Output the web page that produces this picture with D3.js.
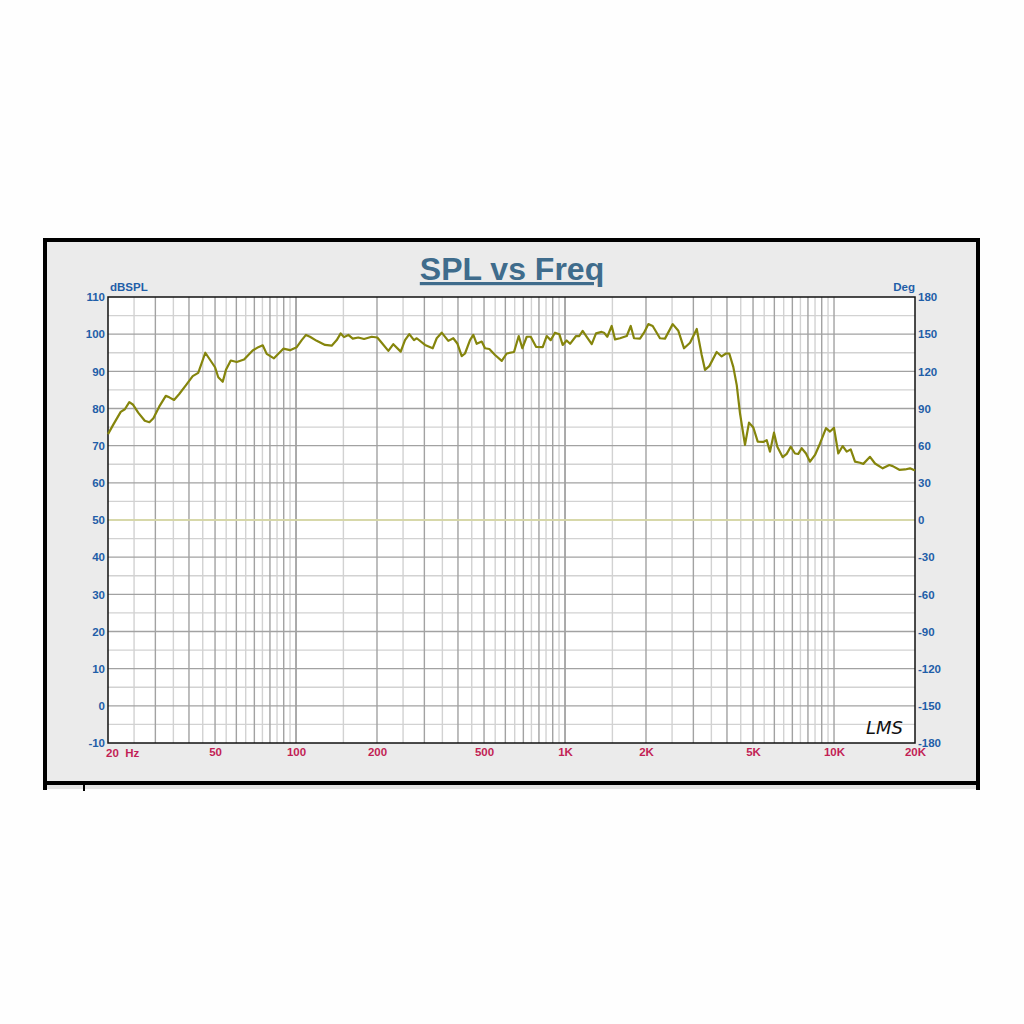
<!DOCTYPE html>
<html><head><meta charset="utf-8">
<script src="https://cdn.jsdelivr.net/npm/d3@7"></script>
<style>html,body{margin:0;padding:0;background:#fefefe;}</style>
</head><body>
<script>
// ---- data ----
const freqs = [20,20.9,22.3,23.1,24.0,24.8,25.9,27.4,28.5,29.5,31.0,32.8,33.8,35.2,36.8,39.0,41.3,43.3,46.0,50.0,51.4,53.4,54.9,57.2,60.2,64.1,69.0,72.4,75.2,77.8,82.8,89.7,95.0,100.6,105,108.9,112.7,119.4,128.2,135.7,141.7,146.6,150.8,156.5,162.5,170.4,179,191.1,200.5,208.2,220.4,230,245,254.2,263.7,274.5,281,301.7,322.2,333.4,348,368.2,384.2,397.8,413,424.8,443.4,456.1,469.6,490.1,504.2,523.2,549.4,581.8,607.3,646.2,672.8,693.8,720.5,745.7,780.2,826.1,854.9,884.6,917.7,952.2,980.2,1014,1044,1099,1130,1163,1204,1257,1304,1369,1396,1436,1491,1534,1601,1696,1755,1805,1900,1966,2040,2118,2254,2353,2514,2638,2770,2916,3088,3222,3314,3438,3662,3822,3966,4080,4222,4349,4472,4667,4830,5012,5204,5459,5620,5781,5982,6155,6446,6670,6902,7159,7366,7582,7868,8142,8499,8871,9338,9661,9997,10373,10771,11148,11535,11967,12490,12849,13608,14204,15172,16056,16529,17489,18362,19163,20000];
const spl = [73.1,75.6,79.1,79.8,81.7,81.0,78.9,76.7,76.3,77.4,80.5,83.4,83.0,82.3,83.9,86.3,88.7,89.6,95.0,91.1,88.4,87.2,90.4,92.9,92.5,93.2,95.6,96.5,97.0,94.7,93.5,96.1,95.7,96.5,98.4,99.8,99.3,98.2,97.1,96.9,98.4,100.2,99.2,99.8,98.8,99.1,98.7,99.3,99.1,97.7,95.5,97.3,95.3,98.4,100.0,98.4,98.9,97.1,96.2,98.9,100.4,98.2,98.9,97.5,94.1,94.8,98.4,99.8,97.4,98.0,96.2,96.0,94.4,92.8,94.8,95.2,99.5,96.2,99.3,99.3,96.6,96.5,99.5,98.4,100.4,100.0,97.1,98.3,97.4,99.5,99.5,100.9,99.3,97.3,100.2,100.6,100.4,99.3,102.2,98.6,98.9,99.5,102.2,98.9,98.8,100.4,102.7,102.2,98.9,98.8,102.7,100.9,96.2,97.7,101.4,94.4,90.4,91.4,95.2,94.0,94.8,94.8,91.2,86.3,78.7,70.2,76.2,74.9,71.1,71.0,71.5,68.4,73.5,69.7,66.9,67.8,69.7,67.9,67.8,69.3,67.9,65.7,67.5,70.6,74.7,73.8,74.8,67.9,69.9,68.4,69.0,65.7,65.4,65.1,67.0,65.2,63.9,64.8,64.5,63.5,63.6,63.9,63.3];
const phaseFreqs = [20, 20000];
const phase = [0, 0];
const splTicks = [110,100,90,80,70,60,50,40,30,20,10,0,-10];
const degTicks = [180,150,120,90,60,30,0,-30,-60,-90,-120,-150,-180];
const freqTicks = [50,100,200,500,1000,2000,5000,10000,20000];
const freqTickLabels = ["50","100","200","500","1K","2K","5K","10K","20K"];
const title = "SPL vs Freq";

// ---- layout ----
const W = 1024, H = 1024;
const L = 108, R = 915, T = 297, B = 743;
const FONT = "Arial, 'Liberation Sans', sans-serif";
const svg = d3.select("body").append("svg").attr("width", W).attr("height", H)
  .style("font-family", FONT);

// frame
svg.append("rect").attr("x", 45).attr("y", 240).attr("width", 933).attr("height", 549).attr("fill", "#ebebeb");
svg.append("rect").attr("x", 47).attr("y", 785).attr("width", 929).attr("height", 4).attr("fill", "#e4e4e4");
const blk = "#000";
svg.append("line").attr("x1", 43).attr("x2", 980).attr("y1", 240).attr("y2", 240).attr("stroke", blk).attr("stroke-width", 4);
svg.append("line").attr("x1", 45).attr("x2", 45).attr("y1", 238).attr("y2", 790).attr("stroke", blk).attr("stroke-width", 4);
svg.append("line").attr("x1", 978).attr("x2", 978).attr("y1", 238).attr("y2", 790).attr("stroke", blk).attr("stroke-width", 4);
svg.append("line").attr("x1", 43).attr("x2", 980).attr("y1", 783).attr("y2", 783).attr("stroke", blk).attr("stroke-width", 4);
svg.append("line").attr("x1", 84).attr("x2", 84).attr("y1", 784).attr("y2", 791).attr("stroke", blk).attr("stroke-width", 2);

// scales
const x = d3.scaleLog().domain([20, 20000]).range([L, R]);
const y = d3.scaleLinear().domain([-10, 110]).range([B, T]);
const yd = d3.scaleLinear().domain([-180, 180]).range([B, T]);

svg.append("rect").attr("x", L).attr("y", T).attr("width", R - L).attr("height", B - T).attr("fill", "#fff");

// grid
const g = svg.append("g");
const minorY = d3.range(-5, 110, 10);
g.selectAll(".hmin").data(minorY).join("line")
  .attr("x1", L).attr("x2", R).attr("y1", d => y(d)).attr("y2", d => y(d))
  .attr("stroke", "#d2d2d2").attr("stroke-width", 1.4);
const vlines = [];
[10, 100, 1000].forEach(dec => {
  for (let m = 2; m <= 20; m++) {
    const f = dec * m / 2;
    if (f > 20 && f < 20000) vlines.push({f, major: m % 2 === 0});
  }
});
g.selectAll(".v").data(vlines).join("line")
  .attr("x1", d => x(d.f)).attr("x2", d => x(d.f)).attr("y1", T).attr("y2", B)
  .attr("stroke", d => d.major ? "#a2a2a2" : "#d2d2d2").attr("stroke-width", 1.4);
g.selectAll(".hmaj").data(splTicks.filter(d => d > -10 && d < 110)).join("line")
  .attr("x1", L).attr("x2", R).attr("y1", d => y(d)).attr("y2", d => y(d))
  .attr("stroke", "#a2a2a2").attr("stroke-width", 1.4);

// phase line
const phaseLine = d3.line().x((d, i) => x(phaseFreqs[i])).y(d => yd(d));
svg.append("path").attr("d", phaseLine(phase)).attr("fill", "none").attr("stroke", "#e2e3a6").attr("stroke-width", 1.6);

// plot border
svg.append("rect").attr("x", L).attr("y", T).attr("width", R - L).attr("height", B - T)
  .attr("fill", "none").attr("stroke", "#111").attr("stroke-width", 1.5);

// SPL curve
const line = d3.line().x((d, i) => x(freqs[i])).y(d => y(d));
svg.append("path").attr("d", line(spl)).attr("fill", "none").attr("stroke", "#85850c")
  .attr("stroke-width", 2.2).attr("stroke-linejoin", "round");

// axes
const blue = "#1f5ea8", red = "#c21f55";
const fmt = d => String(d);
const yAxis = d3.axisLeft(y).tickValues(splTicks).tickFormat(fmt).tickSize(0).tickPadding(3);
const ya = svg.append("g").attr("transform", `translate(${L},0)`).call(yAxis);
ya.select(".domain").remove();
ya.selectAll("text").attr("fill", blue).attr("font-size", 11.5).attr("font-weight", "bold").attr("font-family", FONT);

const dAxis = d3.axisRight(yd).tickValues(degTicks).tickFormat(fmt).tickSize(0).tickPadding(3);
const da = svg.append("g").attr("transform", `translate(${R},0)`).call(dAxis);
da.select(".domain").remove();
da.selectAll("text").attr("fill", blue).attr("font-size", 11.5).attr("font-weight", "bold").attr("font-family", FONT);

const xAxis = d3.axisBottom(x).tickValues(freqTicks).tickFormat((d, i) => freqTickLabels[i]).tickSize(0).tickPadding(5);
const xa = svg.append("g").attr("transform", `translate(0,${B})`).call(xAxis);
xa.select(".domain").remove();
xa.selectAll("text").attr("fill", red).attr("font-size", 11.5).attr("font-weight", "bold").attr("font-family", FONT);

svg.append("text").attr("x", 106).attr("y", 757).attr("fill", red).attr("font-size", 11.5).attr("font-weight", "bold").attr("xml:space", "preserve").style("white-space", "pre").text("20  Hz");
svg.append("text").attr("x", 110).attr("y", 291).attr("fill", blue).attr("font-size", 11.5).attr("font-weight", "bold").text("dBSPL");
svg.append("text").attr("x", 915).attr("y", 291).attr("text-anchor", "end").attr("fill", blue).attr("font-size", 11.5).attr("font-weight", "bold").text("Deg");

// title
svg.append("text").attr("x", 512).attr("y", 280).attr("text-anchor", "middle").attr("fill", "#3f6c8c")
  .attr("font-size", 32).attr("font-weight", "bold").attr("text-decoration", "underline").text(title);

// LMS mark
svg.append("text").attr("x", 866).attr("y", 734).attr("fill", "#111").attr("font-size", 18)
  .attr("font-style", "italic").attr("font-family", "'DejaVu Sans', sans-serif").attr("font-weight", 300).text("LMS");
</script>
</body></html>
